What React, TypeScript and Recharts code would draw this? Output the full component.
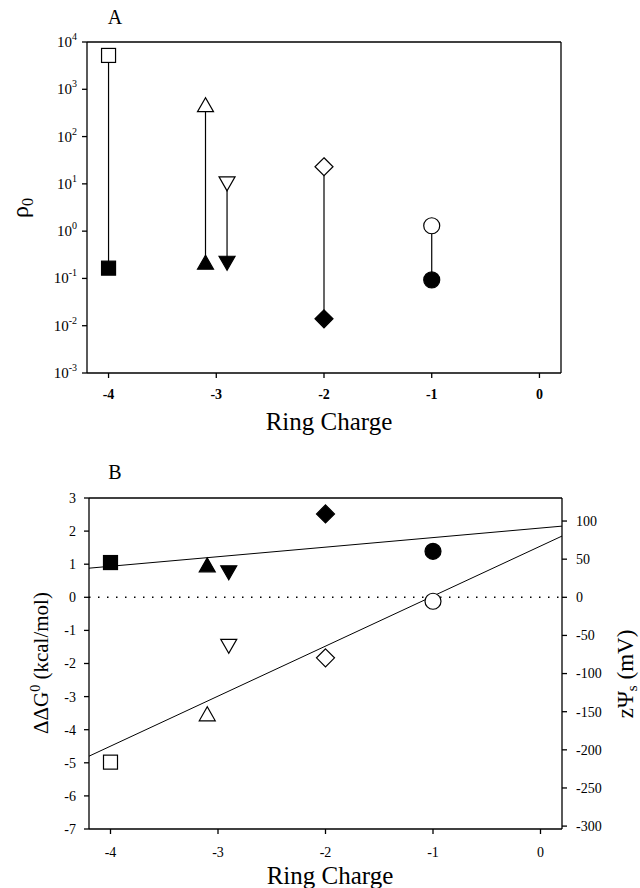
import { ScatterChart, Scatter, XAxis, YAxis, ReferenceLine } from 'recharts';

const SERIF = 'Liberation Serif, Times New Roman, DejaVu Serif, serif';

// shared x positions (ring charge) and marker shapes, in plot order
const ringCharge = [-4, -3.1, -2.9, -2, -1];
const markerKinds = ['square', 'triangle', 'triangleDown', 'diamond', 'circle'];

// panel A: rho0, open = upper symbol, filled = lower symbol
const rhoOpen = [5200, 450, 10.5, 23, 1.3];
const rhoFilled = [0.165, 0.21, 0.22, 0.014, 0.093];

// panel B: ddG0 (kcal/mol)
const dgOpen = [-4.98, -3.55, -1.45, -1.83, -0.12];
const dgFilled = [1.05, 0.95, 0.77, 2.52, 1.39];

// fitted lines in panel B
const fitX = [-4.2, 0.2];
const fitFilled = [0.88, 2.15];
const fitOpen = [-4.8, 1.85];

const xTicks = [-4, -3, -2, -1, 0];
const rhoTicks = [0.001, 0.01, 0.1, 1, 10, 100, 1000, 10000];
const dgTicks = [-7, -6, -5, -4, -3, -2, -1, 0, 1, 2, 3];
const mvTicks = [-300, -250, -200, -150, -100, -50, 0, 50, 100];
const KCAL_TO_MV = 43.4;

const pairsA = ringCharge.map((x, i) => [
  { x, y: rhoOpen[i], kind: markerKinds[i], filled: false },
  { x, y: rhoFilled[i], kind: markerKinds[i], filled: true },
]);
const openB = ringCharge.map((x, i) => ({ x, y: dgOpen[i], kind: markerKinds[i], filled: false }));
const filledB = ringCharge.map((x, i) => ({ x, y: dgFilled[i], kind: markerKinds[i], filled: true }));
const fitLineFilled = fitX.map((x, i) => ({ x, y: fitFilled[i] }));
const fitLineOpen = fitX.map((x, i) => ({ x, y: fitOpen[i] }));

const AXIS = { stroke: '#000', strokeWidth: 1.3 };
const FONT = { fontFamily: SERIF };

const Marker = (props: any) => {
  const { cx, cy, payload } = props;
  if (cx == null || cy == null) return <g />;
  const fill = payload.filled ? '#000' : '#fff';
  const st = { fill, stroke: '#000', strokeWidth: 1.2 };
  switch (payload.kind) {
    case 'square':
      return <rect x={cx - 7} y={cy - 7} width={14} height={14} {...st} />;
    case 'triangle':
      return <polygon points={`${cx},${cy - 8} ${cx - 8},${cy + 6} ${cx + 8},${cy + 6}`} {...st} />;
    case 'triangleDown':
      return <polygon points={`${cx},${cy + 8} ${cx - 8},${cy - 6} ${cx + 8},${cy - 6}`} {...st} />;
    case 'diamond':
      return <polygon points={`${cx},${cy - 9} ${cx + 9},${cy} ${cx},${cy + 9} ${cx - 9},${cy}`} {...st} />;
    default:
      return <circle cx={cx} cy={cy} r={8} {...st} />;
  }
};

const NoMarker = () => <g />;

const PowerTick = (props: any) => {
  const { x, y, payload } = props;
  const exp = Math.round(Math.log10(payload.value));
  return (
    <text x={x} y={y + 5} textAnchor="end" style={FONT} fontSize={15} fill="#000">
      10
      <tspan dy={-7} fontSize={10}>{exp}</tspan>
    </text>
  );
};

// plain tick so the serif font is applied directly
const SerifTick = (props: any) => {
  const { x, y, payload, textAnchor, size, bold, vertical } = props;
  return (
    <text
      x={x}
      y={vertical ? y + size * 0.35 : y + size * 0.75}
      textAnchor={textAnchor}
      style={FONT}
      fontSize={size}
      fontWeight={bold ? 'bold' : 'normal'}
      fill="#000"
    >
      {payload.value}
    </text>
  );
};

// titles (positions are in each chart's own svg coordinates)
const LetterA = () => (
  <text x={115} y={24} textAnchor="middle" style={FONT} fontSize={20} fill="#000">A</text>
);
const LetterB = () => (
  <text x={115} y={39} textAnchor="middle" style={FONT} fontSize={20} fill="#000">B</text>
);
const RingChargeA = () => (
  <text x={329} y={430} textAnchor="middle" style={FONT} fontSize={25} fill="#000">Ring Charge</text>
);
const RingChargeB = () => (
  <text x={330} y={444} textAnchor="middle" style={FONT} fontSize={25} fill="#000">Ring Charge</text>
);
const RhoTitle = () => (
  <text x={28} y={208} textAnchor="middle" transform="rotate(-90 28 208)" style={FONT} fontSize={24} fill="#000">
    ρ<tspan dy={5} fontSize={16}>0</tspan>
  </text>
);
const DgTitle = () => (
  <text x={48} y={223} textAnchor="middle" transform="rotate(-90 48 223)" style={FONT} fontSize={21} fill="#000">
    ΔΔG<tspan dy={-8} fontSize={14}>0</tspan>
    <tspan dy={8}> (kcal/mol)</tspan>
  </text>
);
const PsiTitle = () => (
  <text x={633} y={234} textAnchor="middle" transform="rotate(-90 633 234)" style={FONT} fontSize={23} fill="#000">
    zΨ<tspan dy={4} fontSize={15}>s</tspan>
    <tspan dy={-4}> (mV)</tspan>
  </text>
);

const App = () => {
  return (
    <div style={{ position: 'absolute', left: 0, top: 0, width: 640, height: 888, background: '#fff', fontFamily: SERIF }}>
      {/* Panel A */}
      <div style={{ position: 'absolute', left: 0, top: 0 }}>
        <ScatterChart width={640} height={440} margin={{ top: 32, right: 0, bottom: 0, left: 0 }}>
          <XAxis
            xAxisId="bottom"
            type="number"
            dataKey="x"
            domain={[-4.2, 0.2]}
            ticks={xTicks}
            allowDataOverflow
            height={67}
            tickSize={5}
            tickMargin={10}
            axisLine={AXIS}
            tickLine={AXIS}
            tick={<SerifTick size={14} bold />}
            label={<RingChargeA />}
          />
          <XAxis
            xAxisId="top"
            orientation="top"
            type="number"
            dataKey="x"
            domain={[-4.2, 0.2]}
            ticks={xTicks}
            allowDataOverflow
            height={10}
            tickSize={5}
            axisLine={AXIS}
            tickLine={AXIS}
            tick={false}
            label={<LetterA />}
          />
          <YAxis
            yAxisId="left"
            type="number"
            dataKey="y"
            scale="log"
            domain={[0.001, 10000]}
            ticks={rhoTicks}
            allowDataOverflow
            width={87}
            tickSize={5}
            tickMargin={5}
            axisLine={AXIS}
            tickLine={AXIS}
            tick={<PowerTick />}
            label={<RhoTitle />}
          />
          <YAxis
            yAxisId="right"
            orientation="right"
            type="number"
            dataKey="y"
            scale="log"
            domain={[0.001, 10000]}
            ticks={rhoTicks}
            allowDataOverflow
            width={79}
            tickSize={5}
            axisLine={AXIS}
            tickLine={AXIS}
            tick={false}
          />
          {pairsA.map((pair, i) => (
            <Scatter
              key={`pairA-${i}`}
              xAxisId="bottom"
              yAxisId="left"
              data={pair}
              line={{ stroke: '#000', strokeWidth: 1.2 }}
              shape={<Marker />}
              isAnimationActive={false}
            />
          ))}
        </ScatterChart>
      </div>

      {/* Panel B */}
      <div style={{ position: 'absolute', left: 0, top: 440 }}>
        <ScatterChart width={640} height={448} margin={{ top: 48, right: 0, bottom: 0, left: 0 }}>
          <XAxis
            xAxisId="bottom"
            type="number"
            dataKey="x"
            domain={[-4.2, 0.2]}
            ticks={xTicks}
            allowDataOverflow
            height={59}
            tickSize={5}
            tickMargin={12}
            axisLine={AXIS}
            tickLine={AXIS}
            tick={<SerifTick size={14} />}
            label={<RingChargeB />}
          />
          <XAxis
            xAxisId="top"
            orientation="top"
            type="number"
            dataKey="x"
            domain={[-4.2, 0.2]}
            ticks={xTicks}
            allowDataOverflow
            height={10}
            tickSize={5}
            axisLine={AXIS}
            tickLine={AXIS}
            tick={false}
            label={<LetterB />}
          />
          <YAxis
            yAxisId="left"
            type="number"
            dataKey="y"
            domain={[-7, 3]}
            ticks={dgTicks}
            allowDataOverflow
            width={89}
            tickSize={5}
            tickMargin={8}
            axisLine={AXIS}
            tickLine={AXIS}
            tick={<SerifTick size={14} vertical />}
            label={<DgTitle />}
          />
          <YAxis
            yAxisId="mv"
            orientation="right"
            type="number"
            dataKey="y"
            domain={[-7 * KCAL_TO_MV, 3 * KCAL_TO_MV]}
            ticks={mvTicks}
            allowDataOverflow
            width={78}
            tickSize={5}
            tickMargin={9}
            axisLine={AXIS}
            tickLine={AXIS}
            tick={<SerifTick size={14} vertical />}
            label={<PsiTitle />}
          />
          <ReferenceLine
            xAxisId="bottom"
            yAxisId="left"
            y={0}
            stroke="#000"
            strokeWidth={1.5}
            strokeDasharray="1.5 7.5"
          />
          <Scatter
            xAxisId="bottom"
            yAxisId="left"
            data={fitLineFilled}
            line={{ stroke: '#000', strokeWidth: 1 }}
            shape={<NoMarker />}
            isAnimationActive={false}
          />
          <Scatter
            xAxisId="bottom"
            yAxisId="left"
            data={fitLineOpen}
            line={{ stroke: '#000', strokeWidth: 1 }}
            shape={<NoMarker />}
            isAnimationActive={false}
          />
          <Scatter xAxisId="bottom" yAxisId="left" data={openB} shape={<Marker />} isAnimationActive={false} />
          <Scatter xAxisId="bottom" yAxisId="left" data={filledB} shape={<Marker />} isAnimationActive={false} />
        </ScatterChart>
      </div>
    </div>
  );
};

export default App;
